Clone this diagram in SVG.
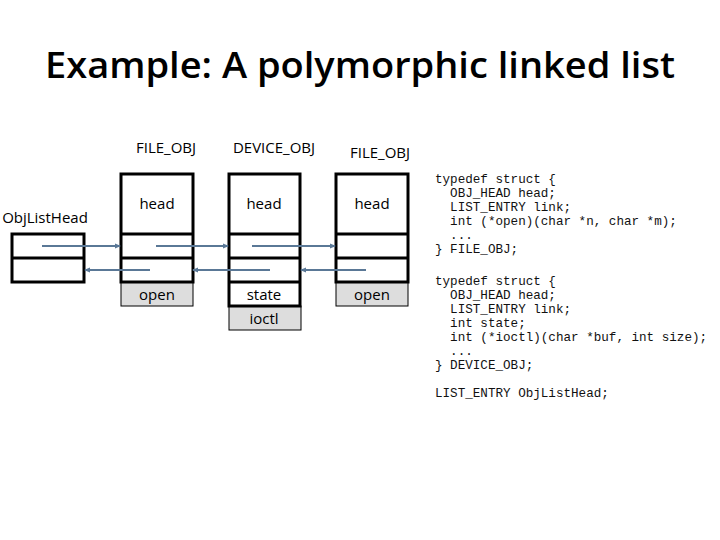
<svg xmlns="http://www.w3.org/2000/svg" width="720" height="540" viewBox="0 0 720 540">
<defs>
<marker id="ah" markerWidth="6" markerHeight="6" refX="5" refY="3" orient="auto" markerUnits="userSpaceOnUse"><path d="M0,0.5 L6,3 L0,5.5 z" fill="#5a7896"/></marker>
</defs>
<style>
.b{fill:#fff;stroke:#000;stroke-width:3}
.g{fill:#ddd;stroke:#000;stroke-width:1}
.t{font-family:"Open Sans","Liberation Sans",sans-serif;font-size:15px;text-anchor:middle;fill:#000}
.c{font-family:"Liberation Mono",monospace;font-size:12.6px;fill:#111;white-space:pre}
.l{stroke:#5a7896;stroke-width:2;fill:none;marker-end:url(#ah)}
</style>
<rect width="720" height="540" fill="#fff"/>
<text x="360" y="78" font-family="Open Sans, Liberation Sans, sans-serif" font-size="36" font-weight="600" text-anchor="middle" textLength="630" lengthAdjust="spacingAndGlyphs">Example: A polymorphic linked list</text>
<text class="t" x="166" y="153">FILE_OBJ</text>
<text class="t" x="274" y="153">DEVICE_OBJ</text>
<text class="t" x="380" y="158">FILE_OBJ</text>
<g id="listhead">
<text class="t" x="45" y="223">ObjListHead</text>
<rect class="b" x="12" y="234" width="72" height="48"/>
<line x1="12" y1="258" x2="84" y2="258" stroke="#000" stroke-width="3"/>
</g>
<g id="file1">
<rect class="g" x="121" y="282" width="72" height="24"/>
<rect class="b" x="121" y="174" width="72" height="108"/>
<line x1="121" y1="234" x2="193" y2="234" stroke="#000" stroke-width="3"/>
<line x1="121" y1="258" x2="193" y2="258" stroke="#000" stroke-width="3"/>
<text class="t" x="157" y="209">head</text>
<text class="t" x="157" y="300">open</text>
</g>
<g id="device">
<rect class="g" x="229" y="306" width="72" height="24"/>
<rect class="b" x="229" y="174" width="71" height="132"/>
<line x1="229" y1="234" x2="300" y2="234" stroke="#000" stroke-width="3"/>
<line x1="229" y1="258" x2="300" y2="258" stroke="#000" stroke-width="3"/>
<line x1="229" y1="282" x2="300" y2="282" stroke="#000" stroke-width="3"/>
<text class="t" x="264" y="209">head</text>
<text class="t" x="264" y="300">state</text>
<text class="t" x="264" y="324">ioctl</text>
</g>
<g id="file2">
<rect class="g" x="336" y="282" width="72" height="24"/>
<rect class="b" x="336" y="174" width="72" height="108"/>
<line x1="336" y1="234" x2="408" y2="234" stroke="#000" stroke-width="3"/>
<line x1="336" y1="258" x2="408" y2="258" stroke="#000" stroke-width="3"/>
<text class="t" x="372" y="209">head</text>
<text class="t" x="372" y="300">open</text>
</g>
<g id="connectors">
<line class="l" x1="42" y1="246" x2="120" y2="246"/>
<line class="l" x1="156" y1="246" x2="228" y2="246"/>
<line class="l" x1="252" y1="246" x2="335" y2="246"/>
<line class="l" x1="150" y1="270" x2="85" y2="270"/>
<line class="l" x1="270" y1="270" x2="193" y2="270"/>
<line class="l" x1="366" y1="270" x2="301" y2="270"/>
</g>
<g id="code">
<text class="c" x="435" y="183">typedef struct {</text>
<text class="c" x="435" y="197">  OBJ_HEAD head;</text>
<text class="c" x="435" y="211">  LIST_ENTRY link;</text>
<text class="c" x="435" y="225">  int (*open)(char *n, char *m);</text>
<text class="c" x="435" y="239">  ...</text>
<text class="c" x="435" y="253">} FILE_OBJ;</text>
<text class="c" x="435" y="285">typedef struct {</text>
<text class="c" x="435" y="299">  OBJ_HEAD head;</text>
<text class="c" x="435" y="313">  LIST_ENTRY link;</text>
<text class="c" x="435" y="327">  int state;</text>
<text class="c" x="435" y="341">  int (*ioctl)(char *buf, int size);</text>
<text class="c" x="435" y="355">  ...</text>
<text class="c" x="435" y="369">} DEVICE_OBJ;</text>
<text class="c" x="435" y="397">LIST_ENTRY ObjListHead;</text>
</g>
</svg>
